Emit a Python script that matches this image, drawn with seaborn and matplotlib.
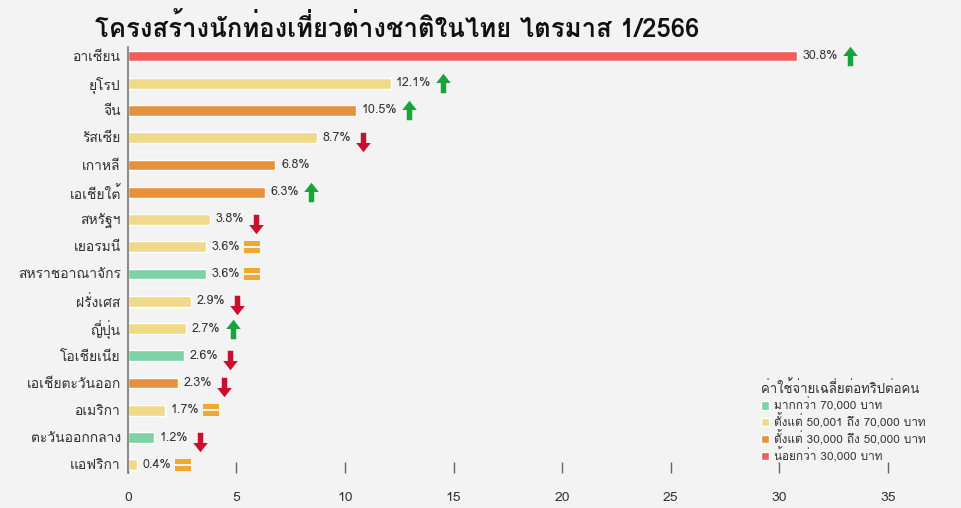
import numpy as np
import matplotlib as mpl
mpl.use("Agg")
import matplotlib.pyplot as plt
from matplotlib import font_manager, ft2font
from matplotlib.path import Path
import seaborn as sns
import pandas as pd

categories = ['อาเซียน', 'ยุโรป', 'จีน', 'รัสเซีย', 'เกาหลี', 'เอเชียใต้', 'สหรัฐฯ', 'เยอรมนี',
              'สหราชอาณาจักร', 'ฝรั่งเศส', 'ญี่ปุ่น', 'โอเชียเนีย', 'เอเชียตะวันออก', 'อเมริกา',
              'ตะวันออกกลาง', 'แอฟริกา']
shares = [30.8, 12.1, 10.5, 8.7, 6.8, 6.3, 3.8, 3.6, 3.6, 2.9, 2.7, 2.6, 2.3, 1.7, 1.2, 0.4]
spend_group = ['low', 'mid', 'midlow', 'mid', 'midlow', 'midlow', 'mid', 'mid',
               'high', 'mid', 'mid', 'high', 'midlow', 'mid', 'high', 'mid']
trend = ['up', 'up', 'up', 'down', '', 'up', 'down', 'eq',
         'eq', 'down', 'up', 'down', 'down', 'eq', 'down', 'eq']
group_order = ['high', 'mid', 'midlow', 'low']
group_labels = ['มากกว่า 70,000 บาท', 'ตั้งแต่ 50,001 ถึง 70,000 บาท',
                'ตั้งแต่ 30,000 ถึง 50,000 บาท', 'น้อยกว่า 30,000 บาท']
legend_title = 'ค่าใช้จ่ายเฉลี่ยต่อทริปต่อคน'
chart_title = 'โครงสร้างนักท่องเที่ยวต่างชาติในไทย ไตรมาส 1/2566'
x_ticks = [0, 5, 10, 15, 20, 25, 30, 35]

colors = {'high': '#7dd3a6', 'mid': '#f0da8a', 'midlow': '#e8903c', 'low': '#f0605a'}
trend_colors = {'up': '#18a33c', 'down': '#c8102e', 'eq': '#f0a830'}


# look for something installed that can draw Thai
def find_thai_font():
    for f in font_manager.fontManager.ttflist:
        try:
            cmap = ft2font.FT2Font(f.fname).get_charmap()
        except Exception:
            continue
        if 0x0E01 in cmap and 0x0E40 in cmap:
            return f.name
    return None


thai = find_thai_font()
sns.set_theme(style="white")
fams = [thai, 'DejaVu Sans'] if thai else ['DejaVu Sans']
plt.rcParams['font.family'] = fams

bg = '#f3f3f3'
df = pd.DataFrame({'region': categories, 'share': shares, 'group': spend_group})

fig = plt.figure(figsize=(9.61, 5.08), dpi=100, facecolor=bg)
ax = fig.add_axes([0.133, 0.069, 0.791, 0.838])
ax.set_facecolor(bg)

sns.barplot(data=df, x='share', y='region', hue='group', hue_order=group_order,
            palette=colors, dodge=False, width=0.4, saturation=1, ax=ax, legend=True)

ax.set_xlim(0, 35)
ax.set_ylim(15.3, -0.32)
ax.set_xticks(x_ticks)
ax.set_xlabel('')
ax.set_ylabel('')
for s in ['top', 'right', 'bottom']:
    ax.spines[s].set_visible(False)
ax.spines['left'].set_color('#777777')
ax.spines['left'].set_linewidth(1.2)
ax.tick_params(axis='x', direction='in', length=8, width=1, color='#666666', pad=14,
               labelsize=10, labelcolor='#333333', bottom=True)
ax.tick_params(axis='y', length=0, pad=5, labelsize=10, labelcolor='#333333')

# value labels
labels = []
for i, v in enumerate(shares):
    t = ax.annotate(f'{v}%', xy=(v, i), xytext=(4, 0), textcoords='offset points',
                    va='center', ha='left', fontsize=9, color='#333333')
    labels.append(t)

# arrow markers
up_arrow = Path([(-0.28, -1), (0.28, -1), (0.28, 0.05), (0.75, 0.05), (0, 1), (-0.75, 0.05),
                 (-0.28, 0.05), (-0.28, -1)], closed=True)
down_arrow = Path([(x, -y) for x, y in up_arrow.vertices], closed=True)
eq_sign = Path([(-1, 0.15), (1, 0.15), (1, 0.75), (-1, 0.75), (-1, 0.15),
                (-1, -0.75), (1, -0.75), (1, -0.15), (-1, -0.15), (-1, -0.75)],
               [Path.MOVETO, Path.LINETO, Path.LINETO, Path.LINETO, Path.CLOSEPOLY,
                Path.MOVETO, Path.LINETO, Path.LINETO, Path.LINETO, Path.CLOSEPOLY])
markers = {'up': up_arrow, 'down': down_arrow, 'eq': eq_sign}
sizes = {'up': 14, 'down': 14, 'eq': 11}

fig.canvas.draw()
inv = ax.transData.inverted()
for i, tr in enumerate(trend):
    if not tr:
        continue
    bb = labels[i].get_window_extent()
    xd = inv.transform((bb.x1 + 12, 0))[0]
    yoff = 0.15 if tr == 'down' else 0.0
    ax.plot(xd, i + yoff, marker=markers[tr], markersize=sizes[tr], color=trend_colors[tr],
            markeredgewidth=0, clip_on=False, linestyle='none')

# legend
handles, _ = ax.get_legend_handles_labels()
leg = ax.legend(handles, group_labels, title=legend_title, loc='lower left',
                bbox_to_anchor=(0.825, 0.012), frameon=False, fontsize=8.5, title_fontsize=9.5,
                handlelength=0.7, handleheight=0.7, handletextpad=0.4, labelspacing=0.1,
                borderpad=0, alignment='left', labelcolor='#333333')
leg.get_title().set_color('#333333')

fig.text(0.099, 0.945, chart_title, fontsize=18.5, fontweight='semibold', color='#111111',
         va='center', ha='left')

fig.savefig('out.png', dpi=100, facecolor=bg)
